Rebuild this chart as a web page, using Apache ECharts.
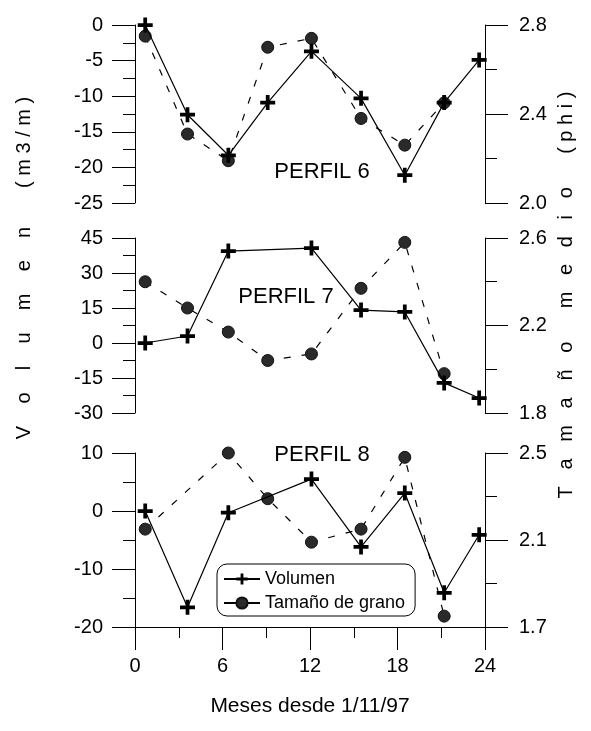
<!DOCTYPE html>
<html>
<head>
<meta charset="utf-8">
<script src="https://cdn.jsdelivr.net/npm/echarts@6/dist/echarts.min.js"></script>
<style>
  html, body { margin: 0; padding: 0; background: #fff; }
  #main { width: 591px; height: 731px; }
</style>
</head>
<body>
<div id="main"></div>
<script>
// meses de cada campaña
var meses = [0.7, 3.6, 6.4, 9.1, 12.1, 15.5, 18.5, 21.2, 23.6];

// volumen (m3/m) y tamaño medio (phi) por perfil, null = sin dato
var vol6 = [0, -12.6, -18.3, -10.9, -3.7, -10.3, -21.1, -10.9, -4.9];
var grano6 = [2.75, 2.31, 2.19, 2.70, 2.74, 2.38, 2.26, 2.45, null];
var vol7 = [0, 3, 39.4, null, 40.7, 14.1, 13.3, -17.1, -23.6];
var grano7 = [2.40, 2.28, 2.17, 2.04, 2.07, 2.37, 2.58, 1.98, null];
var vol8 = [0, -16.6, -0.3, null, 5.5, -6.2, 3.1, -14.1, -4.1];
var grano8 = [2.15, null, 2.50, 2.29, 2.09, 2.15, 2.48, 1.75, null];

var perfiles = ['PERFIL 6', 'PERFIL 7', 'PERFIL 8'];

// ejes: [min, max, intervalo]
var ejeVol = [[-25, 0, 5], [-30, 45, 15], [-20, 10, 10]];
var ejeGrano = [[2.0, 2.8, 0.4], [1.8, 2.6, 0.4], [1.7, 2.5, 0.4]];

function pares(ys) {
  var out = [];
  for (var i = 0; i < meses.length; i++) {
    if (ys[i] != null) out.push([meses[i], ys[i]]);
  }
  return out;
}

var FONT = 'Liberation Sans, Arial, sans-serif';
var cruz = 'path://M3,0H5V3H8V5H5V8H3V5H0V3H3Z';

var chartDom = document.getElementById('main');
var myChart = echarts.init(chartDom, null, { renderer: 'canvas' });

var grids = [
  { left: 135, right: 106, top: 25, height: 178 },
  { left: 135, right: 106, top: 238, height: 175 },
  { left: 135, right: 106, top: 453, height: 174 }
];

var xAxes = [], yAxes = [], series = [];
var vols = [vol6, vol7, vol8];
var granos = [grano6, grano7, grano8];

for (var g = 0; g < 3; g++) {
  var ultimo = g === 2;
  xAxes.push({
    type: 'value', gridIndex: g, min: 0, max: 24, interval: 6,
    show: ultimo,
    axisLine: { show: true, onZero: false, lineStyle: { color: '#000', width: 1 } },
    axisTick: { show: true, length: 23, lineStyle: { color: '#000' } },
    minorTick: { show: true, splitNumber: 2, length: 11, lineStyle: { color: '#000' } },
    splitLine: { show: false },
    axisLabel: { color: '#000', fontSize: 20, fontFamily: FONT, margin: 29 }
  });
  yAxes.push({
    type: 'value', gridIndex: g, position: 'left',
    min: ejeVol[g][0], max: ejeVol[g][1], interval: ejeVol[g][2],
    axisLine: { show: true, onZero: false, lineStyle: { color: '#000', width: 1 } },
    axisTick: { show: true, length: 23, lineStyle: { color: '#000' } },
    minorTick: { show: true, splitNumber: 2, length: 12, lineStyle: { color: '#000' } },
    splitLine: { show: false },
    axisLabel: { color: '#000', fontSize: 20, fontFamily: FONT, margin: 32 }
  });
  yAxes.push({
    type: 'value', gridIndex: g, position: 'right',
    min: ejeGrano[g][0], max: ejeGrano[g][1], interval: ejeGrano[g][2],
    axisLine: { show: true, onZero: false, lineStyle: { color: '#000', width: 1 } },
    axisTick: { show: true, length: 23, lineStyle: { color: '#000' } },
    minorTick: { show: true, splitNumber: 2, length: 12, lineStyle: { color: '#000' } },
    splitLine: { show: false },
    axisLabel: {
      color: '#000', fontSize: 20, fontFamily: FONT, margin: 34,
      formatter: function (v) { return v.toFixed(1); }
    }
  });

  series.push({
    name: 'Volumen', type: 'line', xAxisIndex: g, yAxisIndex: g * 2,
    data: pares(vols[g]),
    symbol: cruz, symbolSize: [15, 15], z: 3,
    itemStyle: { color: '#000' },
    lineStyle: { color: '#000', width: 1.2 }
  });
  series.push({
    name: 'Tamaño de grano', type: 'line', xAxisIndex: g, yAxisIndex: g * 2 + 1,
    data: pares(granos[g]),
    symbol: 'circle', symbolSize: 12, z: 2,
    itemStyle: { color: '#2a2a2a', borderColor: '#111', borderWidth: 1 },
    lineStyle: { color: '#000', width: 1.2, type: [7, 11] }
  });
}

var option = {
  backgroundColor: '#fff',
  animation: false,
  textStyle: { fontFamily: FONT },
  grid: grids,
  xAxis: xAxes,
  yAxis: yAxes,
  legend: {
    data: ['Volumen', { name: 'Tamaño de grano', lineStyle: { type: 'solid' } }],
    orient: 'vertical',
    left: 217, top: 564,
    padding: [6, 10, 4, 6],
    itemGap: 6,
    itemWidth: 36, itemHeight: 14,
    borderColor: '#000', borderWidth: 1, borderRadius: 10,
    textStyle: { color: '#000', fontSize: 18, fontFamily: FONT }
  },
  graphic: [
    { type: 'text', x: 322, y: 172, style: { text: perfiles[0], fontSize: 22, fontFamily: FONT, fill: '#000', align: 'center', verticalAlign: 'middle' } },
    { type: 'text', x: 286, y: 297, style: { text: perfiles[1], fontSize: 22, fontFamily: FONT, fill: '#000', align: 'center', verticalAlign: 'middle' } },
    { type: 'text', x: 322, y: 455, style: { text: perfiles[2], fontSize: 22, fontFamily: FONT, fill: '#000', align: 'center', verticalAlign: 'middle' } },
    { type: 'text', x: 310, y: 706, style: { text: 'Meses desde 1/11/97', fontSize: 21, fontFamily: FONT, fill: '#000', align: 'center', verticalAlign: 'middle' } },
    { type: 'text', x: 24, y: 268, rotation: Math.PI / 2,
      style: { text: 'V    o    l    u    m    e    n       ( m 3 / m )', fontSize: 20, fontFamily: FONT, fill: '#000', align: 'center', verticalAlign: 'middle' } },
    { type: 'text', x: 566, y: 295, rotation: Math.PI / 2,
      style: { text: 'T   a   m   a   ñ   o      m   e   d   i   o      ( p h i )', fontSize: 20, fontFamily: FONT, fill: '#000', align: 'center', verticalAlign: 'middle' } }
  ],
  series: series
};

myChart.setOption(option, true);
</script>
</body>
</html>
